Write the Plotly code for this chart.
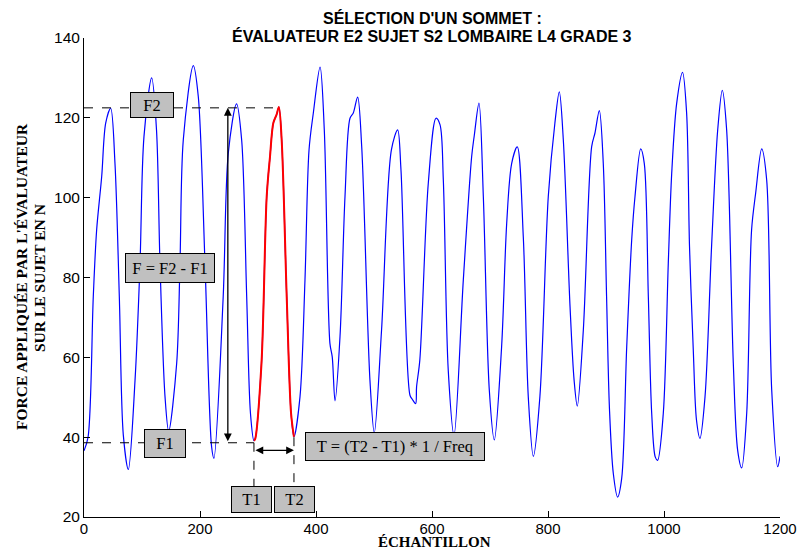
import plotly.graph_objects as go

sample_x = [0, 7, 16, 21.8, 30.5, 37.4, 46, 53.4, 60.9, 67.8, 76.4,
            88, 96.6, 103.4, 116.7, 125, 131, 139.7, 146,
            159.8, 165.5, 171.2, 188.5, 197, 208.6, 220, 224,
            240, 248.8, 263, 271.8, 280.5, 287, 293,
            295, 306, 315, 320.7, 326.4, 332, 336, 340.8, 349.5, 357, 362,
            372.4, 381, 388, 395.4, 407, 414.3, 424, 428, 432.8,
            441.4, 450, 458.6, 464.3, 471.8, 478.8, 493, 500.5,
            513, 530, 540.8, 546.5, 562, 566, 571.8,
            573.4, 579, 593.6, 606.9, 613.8, 619.5, 628, 638,
            654, 668.4, 673, 681, 688.5, 698.8, 707.4,
            720, 728.8, 737.4, 747, 757.4, 766, 774.7,
            786, 800.5, 811.9, 819.5, 826.4, 838, 845, 850.5,
            860.9, 875.3, 881, 888.5, 895.3, 901, 906, 912.6, 920,
            927, 935.7, 944.3, 950, 959.8, 966, 973, 978.8, 985, 989,
            998.8, 1007.4, 1013.3, 1021.9, 1032, 1039, 1044, 1050.5, 1056, 1062,
            1070.7, 1082, 1092.6, 1100.5, 1108, 1119.5, 1127, 1134,
            1142.6, 1151, 1158, 1168.4, 1177, 1185.7, 1196, 1200]
force_y = [36.6, 40, 75.2, 91.9, 105.3, 118.7, 122.4, 108.6, 75.2, 40.5, 31.9,
           54.3, 83.6, 115.3, 130, 117, 83.6, 50.1, 41.5,
           58.5, 83.6, 114.5, 133.1, 125.4, 83.6, 37.6, 34.7,
           75.2, 111.2, 123.5, 114.5, 75.2, 46, 39.1,
           39.5, 58.5, 100.3, 110.3, 118.7, 120.8, 122.7, 114.5, 75.2, 46, 40.1,
           50.1, 79.4, 112, 121.2, 132.7, 117, 63.5, 60.1, 49.1,
           65.2, 100.3, 119.9, 121.2, 125.2, 112.8, 54.3, 41.1,
           66.8, 112, 117, 107, 50.5, 49.5, 48.4,
           52.6, 59.3, 103.6, 119.9, 118.3, 104.5, 56.8, 40.5,
           79.4, 110.3, 115.7, 123.7, 100.3, 51.8, 39.3,
           62.6, 93.6, 108.6, 112.7, 90.2, 50.1, 35.2,
           50.1, 100.3, 118.7, 126.5, 114.5, 72.7, 54.3, 47.8,
           66.8, 112.8, 116.2, 121.8, 108.6, 75.2, 47, 30.9, 25,
           29.6, 62.6, 89.4, 100.3, 112.2, 108.6, 75.2, 46, 35, 34.2,
           46, 83.6, 106.1, 123.7, 131.4, 121.2, 87.7, 61.8, 44.3, 39.7,
           50.1, 87.7, 117, 126.9, 117, 58.5, 36.7, 32.3,
           46, 91.9, 101.1, 112.2, 104.5, 51.8, 32.6, 35.2]

# Selected peak
T1 = 293
T2 = 362
F1 = 38.6
F2 = 122.5
ARROW_X = 248

x_ticks = [0, 200, 400, 600, 800, 1000, 1200]
y_ticks = [20, 40, 60, 80, 100, 120, 140]

title_lines = ["SÉLECTION D'UN SOMMET :", "ÉVALUATEUR E2 SUJET S2 LOMBAIRE L4 GRADE 3"]
y_title_lines = ["FORCE APPLIQUÉE PAR L'ÉVALUATEUR", "SUR LE SUJET EN N"]
x_title = "ÉCHANTILLON"

red_x = [x for x in sample_x if T1 <= x <= T2]
red_y = [y for x, y in zip(sample_x, force_y) if T1 <= x <= T2]

fig = go.Figure()
fig.add_trace(go.Scatter(x=sample_x, y=force_y, mode="lines",
                         line=dict(color="#0000ff", width=1.2, shape="spline", smoothing=0.9),
                         hoverinfo="skip"))
fig.add_trace(go.Scatter(x=red_x, y=red_y, mode="lines",
                         line=dict(color="#ff0000", width=2, shape="spline", smoothing=0.9),
                         hoverinfo="skip"))

dash = dict(color="black", width=1, dash="dash")
fig.add_shape(type="line", x0=0, x1=336, y0=F2, y1=F2, line=dash)
fig.add_shape(type="line", x0=0, x1=T1, y0=F1, y1=F1, line=dash)
fig.add_shape(type="line", x0=T1, x1=T1, y0=F1, y1=27.5, line=dash)
fig.add_shape(type="line", x0=T2, x1=T2, y0=40, y1=27.5, line=dash)

serif = "Liberation Serif"
sans = "Liberation Sans"

# Arrows
fig.add_annotation(x=ARROW_X, y=F2, ax=ARROW_X, ay=F1, xref="x", yref="y", axref="x", ayref="y",
                   showarrow=True, arrowhead=2, arrowside="end+start", arrowwidth=1.3,
                   arrowsize=1.2, arrowcolor="black", text="")
fig.add_annotation(x=T2, y=36.7, ax=T1, ay=36.7, xref="x", yref="y", axref="x", ayref="y",
                   showarrow=True, arrowhead=2, arrowside="end+start", arrowwidth=1.3,
                   arrowsize=1.2, arrowcolor="black", text="")

box = dict(bgcolor="#c0c0c0", bordercolor="black", borderwidth=1, showarrow=False,
           font=dict(family=serif, size=16.5, color="black"), xref="x", yref="y")
fig.add_annotation(x=117, y=123.3, text="F2", width=40, height=22, **box)
fig.add_annotation(x=148.5, y=82.4, text="F = F2 - F1", width=86, height=26, **box)
fig.add_annotation(x=139.5, y=38.5, text="F1", width=38, height=25, **box)
fig.add_annotation(x=536, y=37.6, text="T = (T2 - T1) * 1 / Freq", width=176, height=25, **box)
fig.add_annotation(x=288, y=24.5, text="T1", width=37, height=23, **box)
fig.add_annotation(x=362.5, y=24.5, text="T2", width=37, height=23, **box)

# Titles (positions given in pixels, converted to paper coordinates below)
fig.add_annotation(x=432, y=18, xref="paper", yref="paper", text="<b>" + title_lines[0] + "</b>",
                   showarrow=False, font=dict(family=sans, size=16, color="black"))
fig.add_annotation(x=432, y=36, xref="paper", yref="paper", text="<b>" + title_lines[1] + "</b>",
                   showarrow=False, font=dict(family=sans, size=16, color="black"))
fig.add_annotation(x=434, y=542, xref="paper", yref="paper", text="<b>" + x_title + "</b>",
                   showarrow=False, font=dict(family=serif, size=15, color="black"))
fig.add_annotation(x=21, y=277, xref="paper", yref="paper", text="<b>" + y_title_lines[0] + "</b>",
                   showarrow=False, textangle=-90, font=dict(family=serif, size=15.5, color="black"))
fig.add_annotation(x=39, y=278, xref="paper", yref="paper", text="<b>" + y_title_lines[1] + "</b>",
                   showarrow=False, textangle=-90, font=dict(family=serif, size=15.5, color="black"))

L, R, T, B = 84, 21, 38, 33
W, H = 801, 550
pw, ph = W - L - R, H - T - B
for a in fig.layout.annotations:
    if a.xref == "paper":
        a.x = (a.x - L) / pw
        a.y = (H - B - a.y) / ph
        a.xanchor = "center"
        a.yanchor = "middle"

fig.update_layout(
    width=W, height=H, margin=dict(l=L, r=R, t=T, b=B, autoexpand=False),
    paper_bgcolor="white", plot_bgcolor="white", showlegend=False,
    font=dict(family=sans, size=15.5, color="black"),
)
fig.update_xaxes(range=[0, 1200], tickvals=x_ticks, ticks="inside", ticklen=6, tickcolor="black",
                 showline=True, linecolor="black", linewidth=1, showgrid=False, zeroline=False,
                 automargin=False, ticklabelstandoff=-2,
                 tickfont=dict(family=sans, size=15, color="black"))
fig.update_yaxes(range=[20, 140], tickvals=y_ticks, ticks="inside", ticklen=6, tickcolor="black",
                 showline=True, linecolor="black", linewidth=1, showgrid=False, zeroline=False,
                 automargin=False, tickfont=dict(family=sans, size=15.5, color="black"))

fig.write_html("out.html", config={"displayModeBar": False},
               post_script="document.body.style.margin='0';document.body.style.padding='0';")
